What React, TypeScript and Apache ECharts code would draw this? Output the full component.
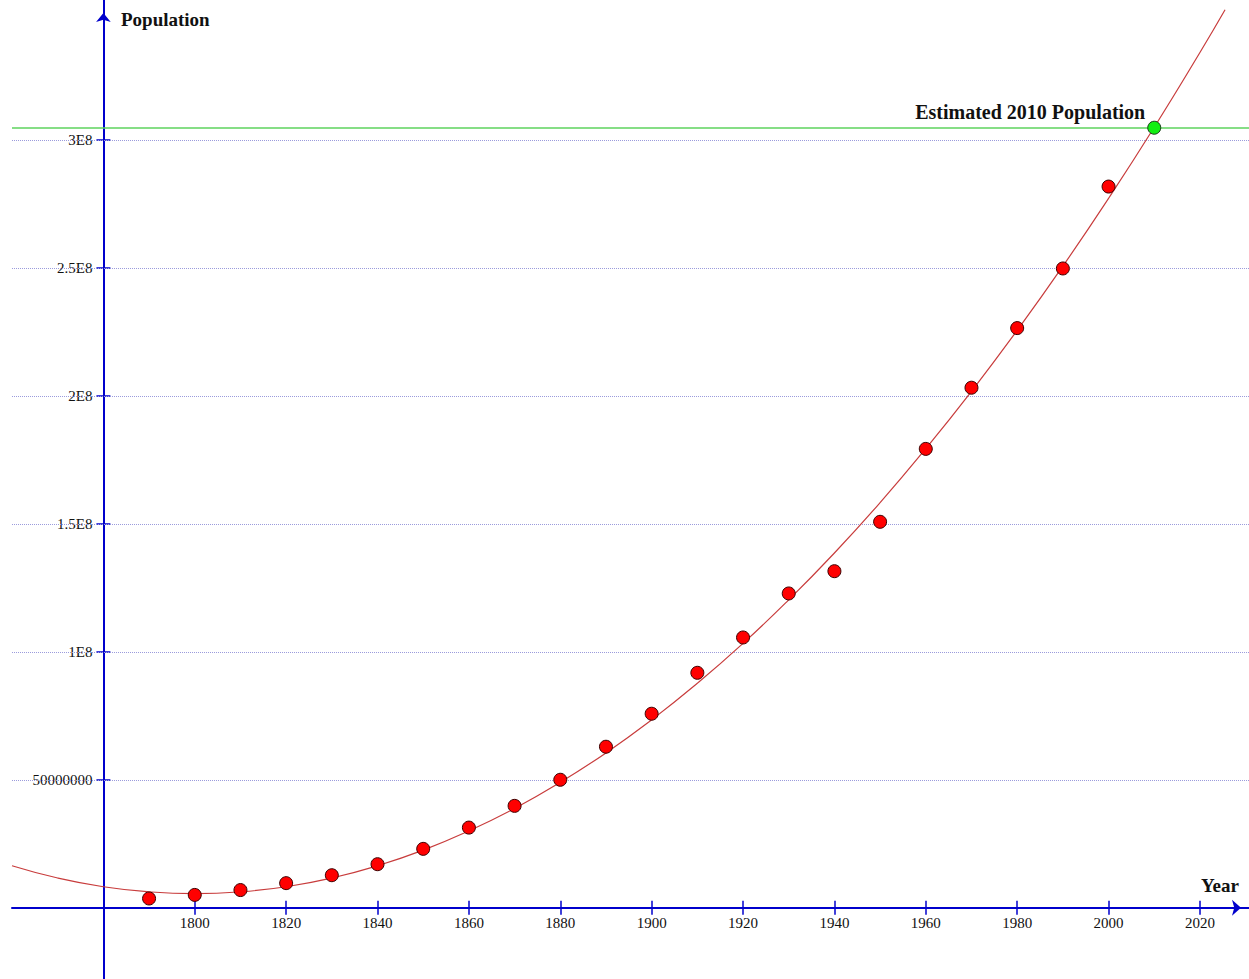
import React, { useEffect, useRef } from "react";
import * as echarts from "echarts";

// Census data points (year, population)
const years = [1790, 1800, 1810, 1820, 1830, 1840, 1850, 1860, 1870, 1880, 1890, 1900, 1910, 1920, 1930, 1940, 1950, 1960, 1970, 1980, 1990, 2000];
const population = [3.6e6, 5.0e6, 6.9e6, 9.6e6, 12.7e6, 17.0e6, 23.0e6, 31.3e6, 39.8e6, 50.0e6, 62.9e6, 75.8e6, 91.8e6, 105.6e6, 122.8e6, 131.5e6, 150.8e6, 179.3e6, 203.2e6, 226.5e6, 249.8e6, 281.8e6];

// Fitted trend curve (millions)
const curveYears = [1760, 1770, 1780, 1790, 1800, 1810, 1820, 1830, 1840, 1850, 1860, 1870, 1880, 1890, 1900, 1910, 1920, 1930, 1940, 1950, 1960, 1970, 1980, 1990, 2000, 2010, 2020, 2025.5];
const curveValues = [16.4, 11.6, 8.2, 6.2, 5.5, 6.2, 8.2, 11.6, 16.4, 22.5, 30.0, 38.8, 49.0, 60.5, 73.4, 87.7, 103.3, 120.3, 138.6, 158.3, 179.4, 201.8, 225.6, 250.7, 277.2, 305.0, 334.2, 350.9];

// Estimate
const estimateYear = 2010;
const estimateValue = 304.8e6;
const estimateLabel = "Estimated 2010 Population";

// Ticks
const xTickValues = [1800, 1820, 1840, 1860, 1880, 1900, 1920, 1940, 1960, 1980, 2000, 2020];
const yTickValues = [5e7, 1e8, 1.5e8, 2e8, 2.5e8, 3e8];
const yTickLabels = ["50000000", "1E8", "1.5E8", "2E8", "2.5E8", "3E8"];

const xName = "Year";
const yName = "Population";

export default function App() {
  const ref = useRef<HTMLDivElement>(null);

  useEffect(() => {
    document.body.style.margin = "0";
    const chart = echarts.init(ref.current as HTMLDivElement, null, { renderer: "svg" });
    const font = "'Liberation Serif', 'Times New Roman', serif";
    const axisColor = "#0000cc";
    const xAxisOffset = -71.3;
    const yAxisOffset = -91.4;

    const option: any = {
      animation: false,
      backgroundColor: "#ffffff",
      grid: { left: 12, right: 0, top: 0, bottom: 0, containLabel: false, outerBoundsMode: "none" },
      xAxis: [
        {
          type: "value",
          min: 1760,
          max: 2030.74,
          position: "bottom",
          offset: xAxisOffset,
          axisLine: {
            show: true,
            onZero: false,
            symbol: ["none", "arrow"],
            symbolSize: [12, 9],
            symbolOffset: [0, -8],
            lineStyle: { color: axisColor, width: 2 },
          },
          axisTick: { show: true, inside: false, length: 7, customValues: xTickValues, lineStyle: { color: axisColor, width: 1.5 } },
          axisLabel: {
            show: true,
            customValues: xTickValues,
            margin: 8,
            fontFamily: font,
            fontSize: 15,
            color: "#111111",
            formatter: (v: number) => String(v),
          },
          splitLine: { show: false },
        },
        {
          type: "value",
          min: 1760,
          max: 2030.74,
          position: "bottom",
          offset: xAxisOffset,
          axisLine: { show: false, onZero: false },
          axisTick: { show: true, inside: true, length: 7, customValues: xTickValues, lineStyle: { color: axisColor, width: 1.5 } },
          axisLabel: { show: false },
          splitLine: { show: false },
        },
      ],
      yAxis: [
        {
          type: "value",
          min: -27.86e6,
          max: 354.71e6,
          position: "left",
          offset: yAxisOffset,
          axisLine: {
            show: true,
            onZero: false,
            symbol: ["none", "arrow"],
            symbolSize: [11, 9],
            symbolOffset: [0, -13],
            lineStyle: { color: axisColor, width: 2 },
          },
          axisTick: { show: true, inside: false, length: 7, customValues: yTickValues, lineStyle: { color: axisColor, width: 1.5 } },
          axisLabel: {
            show: true,
            customValues: yTickValues,
            margin: 11,
            fontFamily: font,
            fontSize: 15,
            color: "#111111",
            formatter: (v: number) => {
              const i = yTickValues.indexOf(v);
              return i >= 0 ? yTickLabels[i] : "";
            },
          },
          splitLine: { show: false },
        },
        {
          type: "value",
          min: -27.86e6,
          max: 354.71e6,
          position: "left",
          offset: yAxisOffset,
          axisLine: { show: false, onZero: false },
          axisTick: { show: true, inside: true, length: 7, customValues: yTickValues, lineStyle: { color: axisColor, width: 1.5 } },
          axisLabel: { show: false },
          splitLine: { show: false },
        },
      ],
      series: [
        {
          name: "grid",
          type: "line",
          data: [],
          z: 1,
          silent: true,
          markLine: {
            silent: true,
            z: 1,
            symbol: ["none", "none"],
            label: { show: false },
            animation: false,
            data: [
              ...yTickValues.map((v) => ({
                yAxis: v,
                lineStyle: { color: "#9b9bdc", width: 1, type: "dotted" },
              })),
              { yAxis: estimateValue, lineStyle: { color: "#5ed35e", width: 1.6, type: "solid" } },
            ],
          },
        },
        {
          name: "trend",
          type: "line",
          data: curveYears.map((y, i) => [y, curveValues[i] * 1e6]),
          smooth: true,
          showSymbol: false,
          symbol: "none",
          z: 3,
          silent: true,
          lineStyle: { color: "#c83c3c", width: 1.2 },
        },
        {
          name: "population",
          type: "scatter",
          data: years.map((y, i) => [y, population[i]]),
          symbolSize: 13,
          z: 4,
          itemStyle: { color: "#ff0000", borderColor: "#3a0000", borderWidth: 1, opacity: 1 },
        },
        {
          name: "estimate",
          type: "scatter",
          data: [[estimateYear, estimateValue]],
          symbolSize: 13,
          z: 5,
          itemStyle: { color: "#11ee11", borderColor: "#1a3a1a", borderWidth: 1, opacity: 1 },
          label: {
            show: true,
            position: "left",
            distance: 5,
            offset: [3, -15.5],
            formatter: estimateLabel,
            fontFamily: font,
            fontWeight: "bold",
            fontSize: 20,
            color: "#111111",
          },
        },
      ],
      graphic: [
        {
          type: "text",
          left: 121,
          top: 10,
          style: { text: yName, fontFamily: font, fontWeight: "bold", fontSize: 19, fill: "#111111" },
        },
        {
          type: "text",
          left: 1201,
          top: 876,
          style: { text: xName, fontFamily: font, fontWeight: "bold", fontSize: 19, fill: "#111111" },
        },
      ],
    };

    chart.setOption(option);
    return () => chart.dispose();
  }, []);

  return <div ref={ref} style={{ width: 1249, height: 979 }} />;
}
